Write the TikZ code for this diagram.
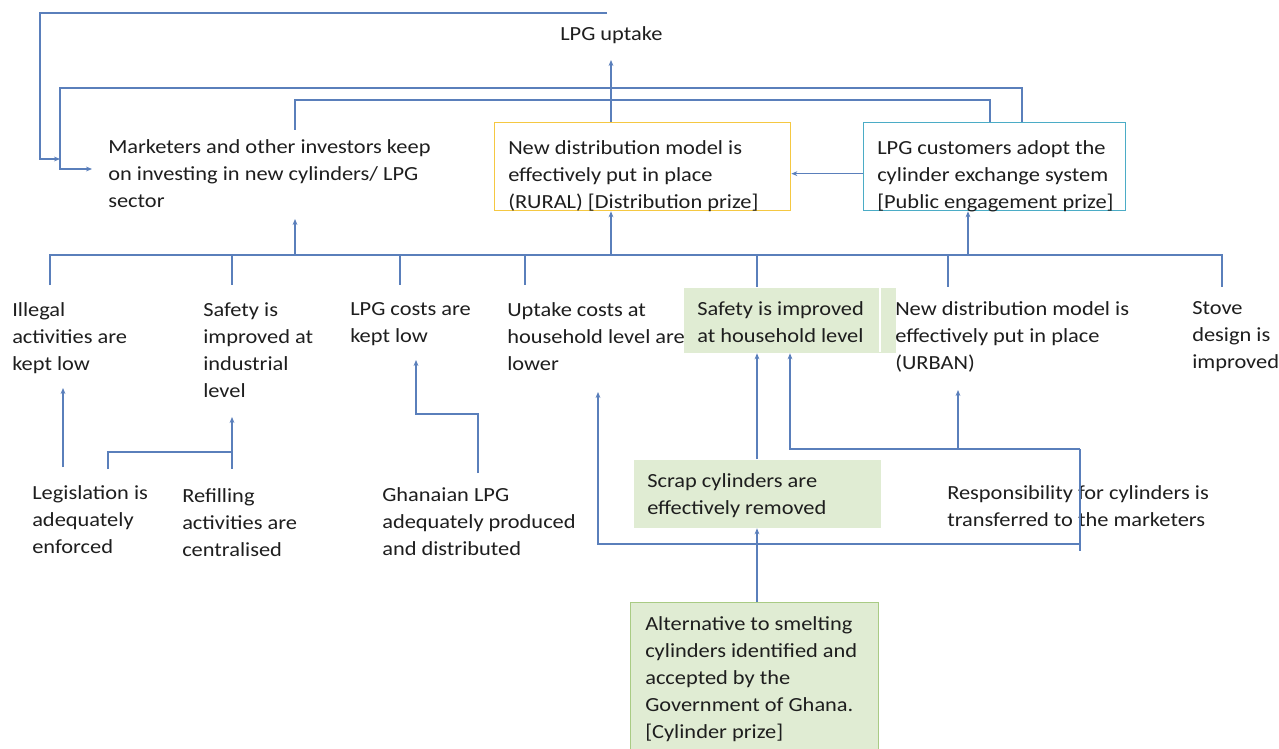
\documentclass[tikz,border=0pt]{standalone}
\usepackage{fontspec}
\setmainfont{Carlito}[FakeStretch=1.12]
\usetikzlibrary{arrows.meta}
\definecolor{ln}{HTML}{5A7FBB}
\definecolor{gfill}{HTML}{E0ECD3}
\definecolor{gborder}{HTML}{A9CB84}
\definecolor{ybord}{HTML}{F5C842}
\definecolor{cbord}{HTML}{4BACC6}
\definecolor{tx}{HTML}{1E1E1E}
\newcommand\mfs{\fontsize{15pt}{20.25pt}\selectfont}
\begin{document}
\begin{tikzpicture}[x=0.75pt,y=-0.75pt,
  txt/.style={anchor=north west, inner sep=0pt, align=left, font=\mfs, text=tx},
  boxr/.style={anchor=north west, inner sep=0pt, line width=1pt},
  ln/.style={draw=ln, line width=0.9pt},
  arr/.style={ln, -{Stealth[length=4.5pt,width=3.6pt]}}]
\clip (0,0) rectangle (1279,749);
\fill[white] (0,0) rectangle (1279,749);

% boxes
\node[boxr, draw=ybord, minimum width=222pt, minimum height=66pt] (rural) at (494,122) {};
\node[boxr, draw=cbord, minimum width=196.5pt, minimum height=66pt] (cust) at (863,122) {};
\node[boxr, fill=gfill, minimum width=159pt, minimum height=48.75pt] (safhh) at (683,287) {};
\draw[white, line width=1.2pt] (880,287) -- (880,352);
\node[boxr, fill=gfill, minimum width=185.25pt, minimum height=51pt] (scrap) at (633,459) {};
\node[boxr, fill=gfill, draw=gborder, minimum width=186pt, minimum height=116pt] (alt) at (630,602) {};

% texts
\node[txt] (uptake) at (560,26) {LPG uptake};
\node[txt] (mark) at (108,139) {Marketers and other investors keep\\on investing in new cylinders/ LPG\\sector};
\node[txt] (ruraltx) at (508,140) {New distribution model is\\effectively put in place\\(RURAL) [Distribution prize]};
\node[txt] (custtx) at (877,140) {LPG customers adopt the\\cylinder exchange system\\{[}Public engagement prize{]}};
\node[txt] (illegal) at (12,302) {Illegal\\activities are\\kept low};
\node[txt] (safind) at (203,302) {Safety is\\improved at\\industrial\\level};
\node[txt] (costs) at (350,302) {LPG costs are\\kept low};
\node[txt] (upcost) at (507,302) {Uptake costs at\\household level are\\lower};
\node[txt] (safhhtx) at (697,301) {Safety is improved\\at household level};
\node[txt] (urban) at (895,301) {New distribution model is\\effectively put in place\\(URBAN)};
\node[txt] (stove) at (1192,301) {Stove\\design is\\improved};
\node[txt] (legis) at (32,485) {Legislation is\\adequately\\enforced};
\node[txt] (refill) at (182,488) {Refilling\\activities are\\centralised};
\node[txt] (ghana) at (382,487) {Ghanaian LPG\\adequately produced\\and distributed};
\node[txt] (scraptx) at (647,473) {Scrap cylinders are\\effectively removed};
\node[txt] (resp) at (947,485) {Responsibility for cylinders is\\transferred to the marketers};
\node[txt] (alttx) at (645,616) {Alternative to smelting\\cylinders identified and\\accepted by the\\Government of Ghana.\\{[}Cylinder prize{]}};

% reference coordinates
\coordinate (c1) at (607,13);
\coordinate (k1) at (1022,88);
\coordinate (k2) at (990,100);
\coordinate (x611) at (611,0);
\coordinate (x968) at (968,0);
\coordinate (x295) at (295,0);
\coordinate (x757) at (757,0);
\coordinate (x790) at (790,0);
\coordinate (r1) at (1080,449);
\coordinate (r2) at (1080,544);

% top loops
\draw[arr] (c1) -- (40,13) |- (60,159);
\draw[arr] (k1 |- cust.north) -- (k1) -| (60,169) -- (92,169);
\draw[ln] (k2 |- cust.north) -- (k2) -| (295,130);
\draw[arr] (x611 |- rural.north) -- (611,60);
\draw[arr] ([yshift=-5.25pt]cust.west) -- ([yshift=-5.25pt]rural.east);

% main bar
\draw[ln] (50,285) -- (50,255) -- (1222,255) -- (1222,287);
\foreach \x in {232,400,525} \draw[ln] (\x,255) -- (\x,285);
\foreach \x in {757,948} \draw[ln] (\x,255) -- (\x,287);
\draw[arr] (295,255) -- (295,219);
\draw[arr] (611,255) -- (x611 |- rural.south);
\draw[arr] (968,255) -- (x968 |- cust.south);

% lower left
\draw[arr] (63,467) -- (63,388);
\draw[ln] (108,469) -- (108,452) -- (232,452) -- (232,469);
\draw[arr] (232,452) -- (232,417);
\draw[arr] (478,473) -- (478,414) -- (416,414) -- (416,360);

% middle / right
\draw[arr] (x757 |- scrap.north) -- (x757 |- safhh.south);
\draw[arr] (x757 |- alt.north) -- (x757 |- scrap.south);
\draw[arr] (r1) -- (x790 |- r1) -- (x790 |- safhh.south);
\draw[arr] (958,449) -- (958,390);
\draw[ln] (r1) -- (1080,551);
\draw[arr] (r2) -- (598,544) -- (598,392);
\end{tikzpicture}
\end{document}
